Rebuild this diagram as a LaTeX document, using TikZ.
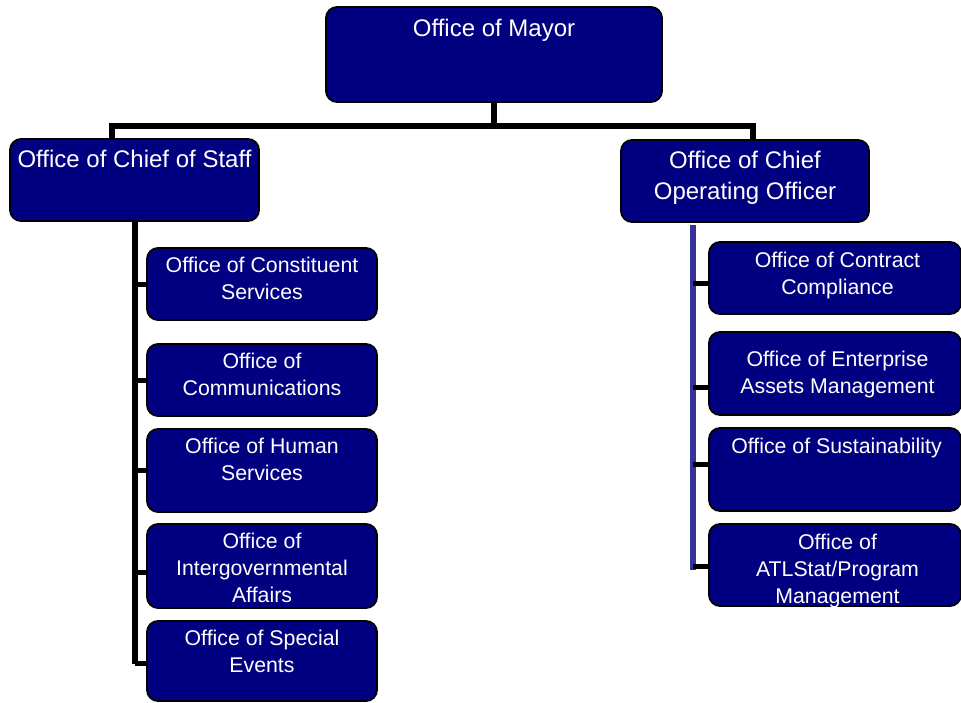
\documentclass[tikz,border=0pt]{standalone}
\usepackage{fontspec}
\setmainfont{Liberation Sans}

\definecolor{deptblue}{RGB}{0,0,128}
\definecolor{spineblue}{RGB}{51,51,153}

% width, height, top gap, text
\newcommand{\deptbox}[4]{\parbox[c][#2][t]{#1}{\centering\vspace*{#3}#4\par}}

\begin{document}
\begin{tikzpicture}[
  x=1pt, y=-1pt,
  dept/.style={draw=black, line width=1.8pt, fill=deptblue, text=white,
    rounded corners=11pt, inner sep=0pt},
  head/.style={dept, font=\fontsize{24}{31}\selectfont},
  sub/.style={dept, font=\fontsize{21.3}{27}\selectfont},
  trunk/.style={line width=6pt},
  twig/.style={line width=5pt},
  spine/.style={line width=6pt, draw=spineblue}
]
\useasboundingbox (0,0) rectangle (961,703);
\clip (0,0) rectangle (961,703);

\node [head] (mayor) at (494,54.5) {\deptbox{336pt}{95pt}{12pt}{Office of Mayor}};
\node [head] (cos) at (134.5,180) {\deptbox{249pt}{82pt}{11pt}{Office of Chief of Staff}};
\node [head] (coo) at (745,181) {\deptbox{248pt}{82pt}{11pt}{Office of Chief\\Operating Officer}};

% chief of staff
\node [sub] (cons) at (262,284) {\deptbox{230pt}{72pt}{9pt}{Office of Constituent\\Services}};
\node [sub] (comm) at (262,380) {\deptbox{230pt}{72pt}{9pt}{Office of\\Communications}};
\node [sub] (hum) at (262,470.5) {\deptbox{230pt}{83pt}{9pt}{Office of Human\\Services}};
\node [sub] (inter) at (262,566) {\deptbox{230pt}{84pt}{9pt}{Office of\\Intergovernmental\\Affairs}};
\node [sub] (spec) at (262,661) {\deptbox{230pt}{80pt}{9.5pt}{Office of Special\\Events}};

% chief operating officer
\node [sub] (contract) at (835,278) {\deptbox{252pt}{72pt}{10pt}{\hspace*{5pt}Office of Contract\\\hspace*{5pt}Compliance}};
\node [sub] (assets) at (835,373.5) {\deptbox{252pt}{83pt}{19pt}{\hspace*{5pt}Office of Enterprise\\\hspace*{5pt}Assets Management}};
\node [sub] (sustain) at (835,469.5) {\deptbox{252pt}{83pt}{10pt}{\hspace*{3pt}Office of Sustainability}};
\node [sub] (atl) at (835,565) {\deptbox{252pt}{82pt}{10pt}{\hspace*{5pt}Office of\\\hspace*{5pt}ATLStat/Program\\\hspace*{5pt}Management}};

\coordinate (busl) at (112,126);
\coordinate (busr) at (753,126);
\draw [trunk] (mayor.south) -- (mayor.south |- busl);
\draw [trunk] (cos.north -| busl) -- (busl) -- (busr) -- (coo.north -| busr);

\draw [trunk] (cos.south) -- ([yshift=-2.5pt]spec.west -| cos.south);
\foreach \n/\d in {cons/-1pt, comm/0pt, hum/0pt, inter/-6pt, spec/-2.5pt}
  \draw [twig] ([yshift=\d]\n.west) -- ([yshift=\d]\n.west -| cos.south);

\coordinate (rtop) at (693,225);
\coordinate (rbot) at (693,570);
\draw [spine] (rtop) -- (rbot);
\foreach \n/\d in {contract/-6pt, assets/-14pt, sustain/5pt, atl/-1pt}
  \draw [twig] ([yshift=\d]\n.west) -- ([yshift=\d]\n.west -| rtop);

\end{tikzpicture}
\end{document}
